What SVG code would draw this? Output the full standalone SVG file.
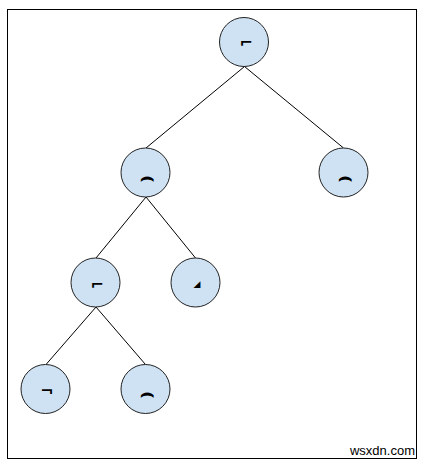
<svg xmlns="http://www.w3.org/2000/svg" width="427" height="465" viewBox="0 0 427 465">
<style>
.n{fill:#cfe2f3;stroke:#222;stroke-width:1}
.e{stroke:#000;stroke-width:1;fill:none}
.t{font-family:"DejaVu Sans",sans-serif;font-size:16px;font-weight:bold;fill:#000;text-anchor:middle;dominant-baseline:central}
.a{font-size:22px}
.w{font-family:"Liberation Sans",Arial,sans-serif;font-size:13px;fill:#000;text-anchor:end}
</style>
<rect x="0" y="0" width="427" height="465" fill="#fff"/>
<rect x="7.5" y="9.5" width="409" height="449" fill="none" stroke="#000" stroke-width="1"/>
<g id="connectors">
<line class="e" x1="244.5" y1="66.5" x2="146" y2="148"/>
<line class="e" x1="244.5" y1="66.5" x2="343.5" y2="148"/>
<line class="e" x1="146" y1="197" x2="96" y2="258"/>
<line class="e" x1="146" y1="197" x2="195.5" y2="258"/>
<line class="e" x1="96" y1="307" x2="46" y2="364.5"/>
<line class="e" x1="96" y1="307" x2="145.5" y2="364.5"/>
</g>
<g id="n1"><circle class="n" cx="244" cy="42" r="24.5"/><text class="t" x="246" y="42">⌐</text></g>
<g id="n2"><circle class="n" cx="145.5" cy="172.5" r="24.5"/><text class="t a" x="147" y="176">⌢</text></g>
<g id="n3"><circle class="n" cx="343.5" cy="172.5" r="24.5"/><text class="t a" x="345" y="176">⌢</text></g>
<g id="n4"><circle class="n" cx="95.5" cy="282.5" r="24.5"/><text class="t" x="97" y="284">⌐</text></g>
<g id="n5"><circle class="n" cx="195.5" cy="282.5" r="24.5"/><text class="t" x="197" y="284" style="font-size:9px">◢</text></g>
<g id="n6"><circle class="n" cx="45.5" cy="389" r="24.5"/><text class="t" x="47" y="390">¬</text></g>
<g id="n7"><circle class="n" cx="145.5" cy="389" r="24.5"/><text class="t a" x="147" y="392">⌢</text></g>
<text class="w" x="415" y="455">wsxdn.com</text>
</svg>
